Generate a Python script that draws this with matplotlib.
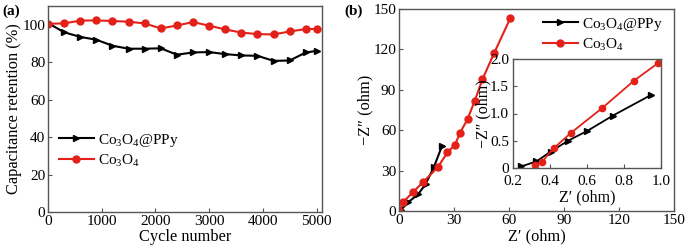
import matplotlib
matplotlib.use("Agg")
import matplotlib.pyplot as plt

# ---------------- data ----------------
cycles = [0, 300, 600, 900, 1200, 1500, 1800, 2100, 2400, 2700, 3000,
          3300, 3600, 3900, 4200, 4500, 4800, 5000]
ret_ppy = [100.9, 96.0, 93.5, 92.0, 88.8, 87.2, 87.2, 87.4, 84.0, 85.2, 85.4,
           84.3, 83.6, 83.4, 80.7, 80.9, 85.2, 86.0]
ret_co = [100.5, 100.7, 102.2, 102.3, 102.0, 101.6, 100.7, 98.0, 99.6, 101.4, 99.5,
          97.5, 95.8, 95.0, 94.8, 96.4, 97.7, 97.7]

# Nyquist, full range
zre_ppy = [0, 1.2, 5.0, 10.5, 14.5, 19.0, 23.5]
zim_ppy = [0, 1.0, 6.5, 12.5, 20.0, 32.5, 48.5]
zre_co = [0, 2.4, 7.5, 13.2, 21.2, 26.4, 30.6, 33.2, 37.4, 41.3, 45.5, 51.8, 60.8]
zim_co = [0, 6.8, 13.8, 21.5, 32.6, 43.5, 49.3, 57.8, 68.3, 81.8, 97.8, 117.0, 143.5]

# Nyquist, inset (high frequency)
zre_ppy_in = [0.245, 0.326, 0.403, 0.497, 0.601, 0.739, 0.946]
zim_ppy_in = [0.03, 0.12, 0.30, 0.50, 0.68, 0.96, 1.34]
zre_co_in = [0.317, 0.356, 0.419, 0.515, 0.682, 0.853, 0.982]
zim_co_in = [0.05, 0.11, 0.36, 0.65, 1.10, 1.60, 1.92]

LBL_PPY = "Co$_3$O$_4$@PPy"
LBL_CO = "Co$_3$O$_4$"

BLACK = "#000000"
RED = "#e32119"
FRAME = "#555555"

TICK_FS = 11
LABEL_FS = 11.8
LEG_FS = 11

plt.rcParams["font.family"] = ["Liberation Serif", "DejaVu Serif"]
plt.rcParams["mathtext.fontset"] = "custom"
plt.rcParams["mathtext.rm"] = "Liberation Serif"
plt.rcParams["mathtext.default"] = "regular"


def style_axes(ax, fs=TICK_FS, xpad=2, ypad=2):
    for sp in ax.spines.values():
        sp.set_color(FRAME)
        sp.set_linewidth(1.0)
    ax.tick_params(direction="in", length=3, width=0.8, colors=FRAME,
                   labelcolor="black", labelsize=fs)
    ax.tick_params(axis="x", pad=xpad)
    ax.tick_params(axis="y", pad=ypad)


def draw_pair(ax, x1, y1, x2, y2, ms=5, lw=1.5):
    ax.plot(x1, y1, color=BLACK, marker=">", ms=ms, lw=lw, label=LBL_PPY)
    ax.plot(x2, y2, color=RED, marker="o", ms=ms, lw=lw, label=LBL_CO)


fig = plt.figure(figsize=(6.85, 2.5), dpi=100)

# ---------------- (a) ----------------
ax1 = fig.add_axes([0.070, 0.152, 0.400, 0.824])
draw_pair(ax1, cycles, ret_ppy, cycles, ret_co)
ax1.set_xlim(0, 5100)
ax1.set_ylim(0, 110)
ax1.set_xticks([0, 1000, 2000, 3000, 4000, 5000])
ax1.set_yticks([0, 20, 40, 60, 80, 100])
ax1.set_xlabel("Cycle number", labelpad=1, fontsize=LABEL_FS)
ax1.set_ylabel("Capacitance retention (%)", labelpad=0, fontsize=LABEL_FS)
style_axes(ax1)
ax1.legend(loc="center left", bbox_to_anchor=(0.0, 0.30), frameon=False,
           handlelength=2.3, handletextpad=0.3, labelspacing=0.25,
           borderaxespad=0.3, fontsize=LEG_FS)
fig.text(0.003, 0.94, "(a)", fontweight="bold", fontsize=11)

# ---------------- (b) ----------------
ax2 = fig.add_axes([0.5825, 0.156, 0.4015, 0.808])
draw_pair(ax2, zre_ppy, zim_ppy, zre_co, zim_co)
ax2.set_xlim(0, 150)
ax2.set_ylim(0, 150)
ax2.set_xticks([0, 30, 60, 90, 120, 150])
ax2.set_yticks([0, 30, 60, 90, 120, 150])
ax2.set_xlabel("Z\u2032 (ohm)", labelpad=1, fontsize=LABEL_FS)
ax2.set_ylabel("\u2212Z\u2033 (ohm)", labelpad=0, fontsize=LABEL_FS)
style_axes(ax2)
ax2.legend(loc="upper right", bbox_to_anchor=(1.0, 1.02), frameon=False,
           handlelength=2.3, handletextpad=0.3, labelspacing=0.25,
           borderaxespad=0.3, fontsize=LEG_FS)
fig.text(0.503, 0.94, "(b)", fontweight="bold", fontsize=11)

# inset
ax3 = fig.add_axes([0.749, 0.328, 0.216, 0.436])
draw_pair(ax3, zre_ppy_in, zim_ppy_in, zre_co_in, zim_co_in, ms=4.5, lw=1.3)
ax3.set_xlim(0.2, 1.0)
ax3.set_ylim(0, 2.0)
ax3.set_xticks([0.2, 0.4, 0.6, 0.8, 1.0])
ax3.set_yticks([0, 0.5, 1.0, 1.5, 2.0])
ax3.set_yticklabels(["0", "0.5", "1.0", "1.5", "2.0"])
ax3.set_xlabel("Z\u2032 (ohm)", labelpad=1, fontsize=11.5)
ax3.set_ylabel("\u2212Z\u2033 (ohm)", labelpad=-1, fontsize=11.5)
style_axes(ax3, fs=11, xpad=5, ypad=3)

fig.savefig("out.png", dpi=100)
